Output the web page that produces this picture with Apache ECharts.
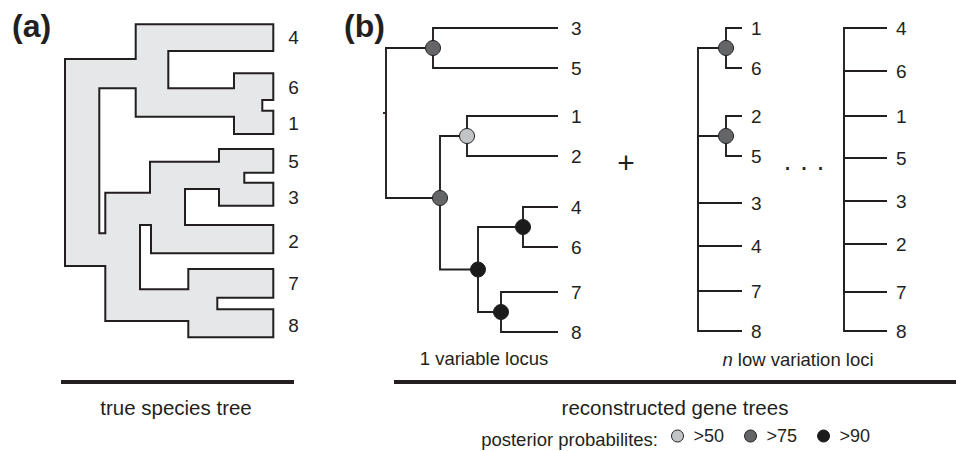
<!DOCTYPE html>
<html>
<head>
<meta charset="utf-8">
<title>True species tree vs reconstructed gene trees</title>
<script src="https://cdn.jsdelivr.net/npm/echarts@6/dist/echarts.min.js"></script>
<style>
  html, body { margin: 0; padding: 0; background: #fff; }
  #chart { width: 956px; height: 451px; }
</style>
</head>
<body>
<div id="chart"></div>
<script>
// ---- data ----
// (a) species tree, drawn as a shaded tube; outline traced in chart units
var speciesOutline = [
  [135.7, 24.3], [273.3, 24.3], [273.3, 51], [168.3, 51], [168.3, 88.3], [234, 88.3],
  [234, 73.3], [273.3, 73.3], [273.3, 100], [262.3, 100], [262.3, 110.7], [273.3, 110.7],
  [273.3, 134], [234, 134], [234, 116.7], [135.7, 116.7], [135.7, 88.3], [99.3, 88.3],
  [99.3, 233.3], [105.3, 233.3], [105.3, 192.7], [150, 192.7], [150, 161.7], [219, 161.7],
  [219, 149], [273.3, 149], [273.3, 172.7], [244.3, 172.7], [244.3, 182.7], [273.3, 182.7],
  [273.3, 205.7], [219, 205.7], [219, 189], [185, 189], [185, 225], [273.3, 225],
  [273.3, 253.3], [151, 253.3], [151, 225], [140, 225], [140, 289.3], [188.3, 289.3],
  [188.3, 269], [273.3, 269], [273.3, 297.7], [217.3, 297.7], [217.3, 309.3], [273.3, 309.3],
  [273.3, 337.3], [188.3, 337.3], [188.3, 321], [105.3, 321], [105.3, 266], [65, 266],
  [65, 59], [135.7, 59]
];
var speciesTips = ['4', '6', '1', '5', '3', '2', '7', '8'];
var speciesTipY = [37, 87, 123, 161, 197, 241, 283, 325];
var speciesTipX = 273.3;

// (b) 1 variable locus
var locusTipY = { '3': 28, '5': 68, '1': 116, '2': 156, '4': 207, '6': 247, '7': 292, '8': 332 };
var locusTipX = 558;
var locusTree = { x: 386, y: 113, stub: 3, children: [
  { x: 433, pp: 75, children: ['3', '5'] },
  { x: 440, y: 198, pp: 75, children: [
    { x: 467, pp: 50, children: ['1', '2'] },
    { x: 478, pp: 90, children: [
      { x: 523, pp: 90, children: ['4', '6'] },
      { x: 501, pp: 90, children: ['7', '8'] }
    ] }
  ] }
] };

// (b) n low variation loci
var lowTipY1 = { '1': 28, '6': 68, '2': 116, '5': 156, '3': 203, '4': 246, '7': 291, '8': 331 };
var lowTipX1 = 742;
var lowTree1 = { x: 698, children: [
  { x: 726, pp: 75, children: ['1', '6'] },
  { x: 726, pp: 75, children: ['2', '5'] },
  '3', '4', '7', '8'
] };

var lowTipY2 = { '4': 28, '6': 71, '1': 116, '5': 158, '3': 201, '2': 244, '7': 292, '8': 331 };
var lowTipX2 = 887;
var lowTree2 = { x: 844, children: ['4', '6', '1', '5', '3', '2', '7', '8'] };

var ppClasses = [50, 75, 90];
var ppColors = ['#c2c3c5', '#646567', '#1c1b1c'];

// ---- build tree geometry in data units ----
function place(node, tipY) {
  if (typeof node === 'string') return { name: node, y: tipY[node], tip: true };
  var kids = node.children.map(function (c) { return place(c, tipY); });
  var y = node.y;
  if (y == null) {
    y = kids.reduce(function (s, k) { return s + k.y; }, 0) / kids.length;
  }
  return { x: node.x, y: y, pp: node.pp, stub: node.stub, kids: kids };
}

var segs = [];
var ppPoints = { 50: [], 75: [], 90: [] };
var tipLabels = {};   // grouped by label gap

function addLabel(x, y, name, gap) {
  (tipLabels[gap] = tipLabels[gap] || []).push([x, y, name]);
}

function walk(n, tipX, gap) {
  if (n.pp) ppPoints[n.pp].push([n.x, n.y]);
  n.kids.forEach(function (k) {
    var endX = k.tip ? tipX : k.x;
    segs.push({ coords: [[n.x, n.y], [n.x, k.y], [endX, k.y]] });
    if (k.tip) addLabel(tipX, k.y, k.name, gap);
    else walk(k, tipX, gap);
  });
}

function addTree(tree, tipY, tipX, gap) {
  var root = place(tree, tipY);
  if (root.stub) segs.push({ coords: [[root.x - root.stub, root.y], [root.x, root.y]] });
  walk(root, tipX, gap);
}

addTree(locusTree, locusTipY, locusTipX, 13);
addTree(lowTree1, lowTipY1, lowTipX1, 9);
addTree(lowTree2, lowTipY2, lowTipX2, 9);
speciesTips.forEach(function (t, i) { addLabel(speciesTipX, speciesTipY[i], t, 15); });

// ---- chart ----
var ink = '#231f20';
var font = "'Liberation Sans', Arial, sans-serif";
var chart = echarts.init(document.getElementById('chart'), null, { renderer: 'svg' });

var series = [
  {
    type: 'custom',
    coordinateSystem: 'cartesian2d',
    data: speciesOutline,
    clip: false,
    silent: true,
    renderItem: function (params, api) {
      if (params.dataIndex !== 0) return null;
      return {
        type: 'polygon',
        shape: { points: speciesOutline.map(function (p) { return api.coord(p); }) },
        style: { fill: '#e6e7e8', stroke: ink, lineWidth: 2 }
      };
    }
  },
  {
    type: 'lines',
    coordinateSystem: 'cartesian2d',
    polyline: true,
    silent: true,
    lineStyle: { color: ink, width: 1.9, opacity: 1, join: 'miter', cap: 'butt' },
    data: segs,
    z: 3
  }
];

Object.keys(tipLabels).forEach(function (g) {
  series.push({
    type: 'scatter',
    symbolSize: 0,
    silent: true,
    data: tipLabels[g],
    encode: { x: 0, y: 1 },
    itemStyle: { color: ink, opacity: 1 },
    label: {
      show: true,
      position: 'right',
      distance: +g,
      formatter: function (p) { return p.value[2]; },
      fontFamily: font,
      fontSize: 19,
      color: ink,
      opacity: 1,
      textBorderWidth: 0
    },
    z: 4
  });
});

ppClasses.forEach(function (c, i) {
  series.push({
    name: '>' + c,
    type: 'scatter',
    symbol: 'circle',
    symbolSize: 15,
    silent: true,
    data: ppPoints[c],
    itemStyle: { color: ppColors[i], borderColor: ink, borderWidth: 1, opacity: 1 },
    z: 5
  });
});

function txt(x, y, text, size, align, bold) {
  return {
    type: 'text',
    x: x,
    y: y,
    silent: true,
    style: {
      text: text,
      font: (bold ? 'bold ' : '') + size + 'px ' + font,
      fill: ink,
      align: align,
      textAlign: align,
      verticalAlign: 'middle',
      textVerticalAlign: 'middle'
    }
  };
}

var option = {
  animation: false,
  backgroundColor: '#fff',
  grid: { left: 0, right: 0, top: 0, bottom: 0, containLabel: false },
  xAxis: { type: 'value', min: 0, max: 956, show: false },
  yAxis: { type: 'value', min: 0, max: 451, inverse: true, show: false },
  legend: {
    data: ppClasses.map(function (c) { return '>' + c; }),
    left: 671,
    top: 427,
    padding: 0,
    icon: 'circle',
    itemWidth: 12,
    itemHeight: 12,
    itemGap: 20,
    selectedMode: false,
    itemStyle: { borderColor: ink, borderWidth: 1 },
    textStyle: { fontFamily: font, fontSize: 18, color: ink, padding: [0, 0, 0, 5] }
  },
  graphic: [
    txt(12, 26, '(a)', 32, 'left', true),
    txt(344, 26, '(b)', 32, 'left', true),
    txt(626, 162, '+', 30, 'center'),
    txt(804, 167, '· · ·', 27, 'center'),
    txt(176, 407, 'true species tree', 20.5, 'center'),
    txt(484, 358, '1 variable locus', 18.5, 'center'),
    {
      type: 'text', x: 798, y: 359, silent: true,
      style: {
        text: '{i|n} low variation loci',
        font: '18.5px ' + font, fill: ink,
        align: 'center', textAlign: 'center',
        verticalAlign: 'middle', textVerticalAlign: 'middle',
        rich: { i: { fontStyle: 'italic', fontFamily: font, fontSize: 18.5, fill: ink, color: ink } }
      }
    },
    txt(675, 407, 'reconstructed gene trees', 20.5, 'center'),
    txt(658, 439, 'posterior probabilites:', 18.5, 'right'),
    { type: 'line', silent: true, shape: { x1: 61, y1: 382, x2: 294, y2: 382 }, style: { stroke: ink, lineWidth: 4 } },
    { type: 'line', silent: true, shape: { x1: 394, y1: 382, x2: 956, y2: 382 }, style: { stroke: ink, lineWidth: 4 } }
  ],
  series: series
};

chart.setOption(option);
</script>
</body>
</html>
